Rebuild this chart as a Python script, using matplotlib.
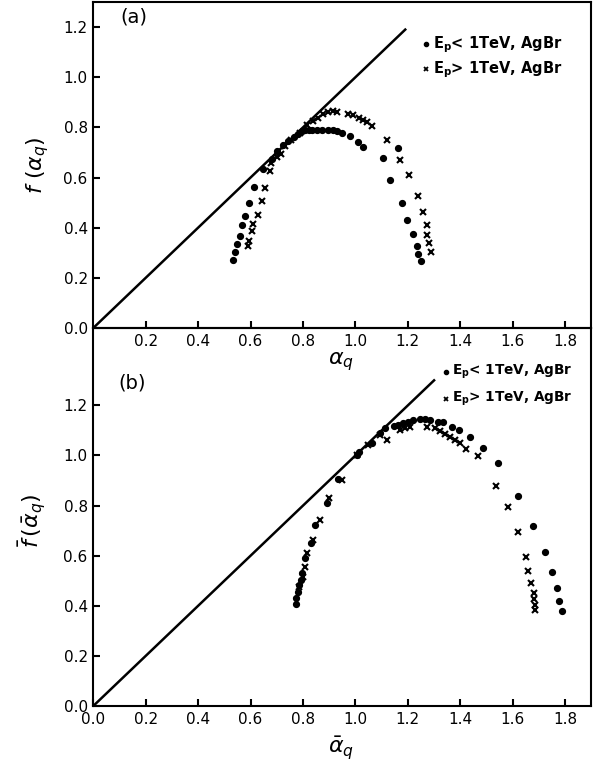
import matplotlib.pyplot as plt

# (a) f(alpha_q) spectrum, E_p < 1 TeV (dots)
a_low_x = [0.534, 0.540, 0.547, 0.559, 0.568, 0.577, 0.595, 0.614, 0.647, 0.680,
           0.702, 0.725, 0.744, 0.765, 0.782, 0.797, 0.807, 0.822, 0.833, 0.852,
           0.871, 0.896, 0.915, 0.931, 0.947, 0.979, 1.011, 1.030, 1.106, 1.163,
           1.132, 1.176, 1.198, 1.221, 1.234, 1.240, 1.249]
a_low_y = [0.273, 0.304, 0.333, 0.366, 0.409, 0.447, 0.497, 0.561, 0.633, 0.672,
           0.705, 0.728, 0.745, 0.762, 0.775, 0.785, 0.791, 0.790, 0.788, 0.788,
           0.791, 0.791, 0.789, 0.785, 0.778, 0.765, 0.741, 0.721, 0.678, 0.718,
           0.592, 0.499, 0.430, 0.373, 0.326, 0.296, 0.266]

# (a) E_p > 1 TeV (crosses)
a_high_x = [0.591, 0.594, 0.604, 0.610, 0.627, 0.643, 0.656, 0.676, 0.677, 0.700,
            0.716, 0.731, 0.756, 0.788, 0.814, 0.840, 0.858, 0.877, 0.896, 0.915,
            0.931, 0.973, 0.989, 1.015, 1.030, 1.045, 1.062, 1.119, 1.170, 1.205,
            1.240, 1.256, 1.274, 1.274, 1.281, 1.288]
a_high_y = [0.326, 0.346, 0.386, 0.413, 0.451, 0.505, 0.559, 0.628, 0.658, 0.680,
            0.692, 0.725, 0.751, 0.778, 0.811, 0.825, 0.838, 0.855, 0.860, 0.864,
            0.860, 0.855, 0.851, 0.838, 0.828, 0.820, 0.807, 0.751, 0.669, 0.609,
            0.528, 0.463, 0.409, 0.370, 0.340, 0.302]

# (b) f-bar(alpha-bar_q), E_p < 1 TeV (dots)
b_low_x = [0.773, 0.775, 0.782, 0.786, 0.791, 0.798, 0.807, 0.830, 0.845, 0.890,
           0.934, 1.005, 1.012, 1.062, 1.094, 1.113, 1.147, 1.163, 1.183, 1.202,
           1.221, 1.246, 1.265, 1.284, 1.316, 1.335, 1.367, 1.396, 1.437, 1.485,
           1.543, 1.621, 1.679, 1.723, 1.749, 1.768, 1.778, 1.787]
b_low_y = [0.407, 0.430, 0.456, 0.483, 0.503, 0.530, 0.590, 0.649, 0.723, 0.809,
           0.905, 1.002, 1.012, 1.049, 1.089, 1.109, 1.118, 1.122, 1.128, 1.135,
           1.142, 1.146, 1.144, 1.142, 1.135, 1.133, 1.115, 1.102, 1.073, 1.031,
           0.971, 0.840, 0.719, 0.614, 0.534, 0.472, 0.420, 0.380]

# (b) E_p > 1 TeV (crosses)
b_high_x = [0.786, 0.801, 0.807, 0.814, 0.839, 0.865, 0.900, 0.947, 1.005, 1.049,
            1.094, 1.119, 1.170, 1.189, 1.208, 1.272, 1.303, 1.323, 1.342, 1.361,
            1.380, 1.399, 1.422, 1.469, 1.535, 1.581, 1.621, 1.650, 1.660, 1.670,
            1.681, 1.682, 1.684, 1.685]
b_high_y = [0.476, 0.516, 0.556, 0.609, 0.663, 0.743, 0.829, 0.902, 1.002, 1.042,
            1.082, 1.062, 1.102, 1.109, 1.113, 1.113, 1.109, 1.099, 1.085, 1.073,
            1.062, 1.049, 1.026, 0.999, 0.879, 0.793, 0.693, 0.596, 0.540, 0.492,
            0.450, 0.426, 0.403, 0.383]

# f = alpha reference lines
line_a = [0.0, 1.19]
line_b = [0.0, 1.30]

x_ticks_a = [0.2, 0.4, 0.6, 0.8, 1.0, 1.2, 1.4, 1.6, 1.8]
x_ticks_b = [0.0, 0.2, 0.4, 0.6, 0.8, 1.0, 1.2, 1.4, 1.6, 1.8]
y_ticks = [0.0, 0.2, 0.4, 0.6, 0.8, 1.0, 1.2]

legend_low = r'$\mathbf{E_p}$< 1TeV, AgBr'
legend_high = r'$\mathbf{E_p}$> 1TeV, AgBr'

fig = plt.figure(figsize=(5.94, 7.71), dpi=100)
ax1 = fig.add_axes([0.157, 0.5746, 0.8386, 0.4228])
ax2 = fig.add_axes([0.157, 0.0843, 0.8386, 0.4903])
ax2.patch.set_visible(False)

for ax in (ax1, ax2):
    for s in ax.spines.values():
        s.set_linewidth(1.5)
    ax.tick_params(direction='in', length=5, width=1.5, labelsize=11, pad=4)
    ax.set_xlim(0, 1.9)
    ax.set_yticks(y_ticks)
    ax.set_yticklabels(['%.1f' % v for v in y_ticks])

ax1.set_ylim(0, 1.3)
ax2.set_ylim(0, 1.509)

ax1.set_xticks(x_ticks_a)
ax1.set_xticklabels(['%.1f' % v for v in x_ticks_a])
ax2.set_xticks(x_ticks_b)
ax2.set_xticklabels(['%.1f' % v for v in x_ticks_b])

dot = dict(linestyle='none', marker='o', markersize=4.2, color='black')
cross = dict(linestyle='none', marker='x', markersize=4.5, markeredgewidth=1.5,
             color='black')

# panel (a)
ax1.plot(line_a, line_a, color='black', lw=1.8)
ax1.plot(a_low_x, a_low_y, **dot)
ax1.plot(a_high_x, a_high_y, **cross)
ax1.text(0.055, 0.955, '(a)', transform=ax1.transAxes, fontsize=14,
         ha='left', va='center')
ax1.plot([0.668], [0.87], transform=ax1.transAxes, marker='o', markersize=3,
         color='black')
ax1.plot([0.668], [0.793], transform=ax1.transAxes, marker='x', markersize=3.5,
         markeredgewidth=1.3, color='black')
ax1.text(0.683, 0.87, legend_low, transform=ax1.transAxes, fontsize=10.5,
         fontweight='bold', ha='left', va='center')
ax1.text(0.683, 0.793, legend_high, transform=ax1.transAxes, fontsize=10.5,
         fontweight='bold', ha='left', va='center')
ax1.set_ylabel(r'$f\ (\alpha_q)$', fontsize=16)
ax1.yaxis.set_label_coords(-0.085, 0.5)
ax1.set_xlabel(r'$\alpha_q$', fontsize=16)
ax1.xaxis.set_label_coords(0.497, -0.068)

# panel (b)
ax2.plot(line_b, line_b, color='black', lw=1.8)
ax2.plot(b_low_x, b_low_y, **dot)
ax2.plot(b_high_x, b_high_y, **cross)
ax2.text(0.05, 0.855, '(b)', transform=ax2.transAxes, fontsize=14,
         ha='left', va='center')
ax2.plot([0.708], [0.883], transform=ax2.transAxes, marker='o', markersize=3,
         color='black')
ax2.plot([0.708], [0.812], transform=ax2.transAxes, marker='x', markersize=3.5,
         markeredgewidth=1.3, color='black')
ax2.text(0.72, 0.883, legend_low, transform=ax2.transAxes, fontsize=9.8,
         fontweight='bold', ha='left', va='center')
ax2.text(0.72, 0.812, legend_high, transform=ax2.transAxes, fontsize=9.8,
         fontweight='bold', ha='left', va='center')
ax2.set_ylabel(r'$\bar{f}\,(\bar{\alpha}_q)$', fontsize=16)
ax2.yaxis.set_label_coords(-0.09, 0.49)
ax2.set_xlabel(r'$\bar{\alpha}_q$', fontsize=16)
ax2.xaxis.set_label_coords(0.497, -0.075)

fig.savefig('out.png', dpi=100)
